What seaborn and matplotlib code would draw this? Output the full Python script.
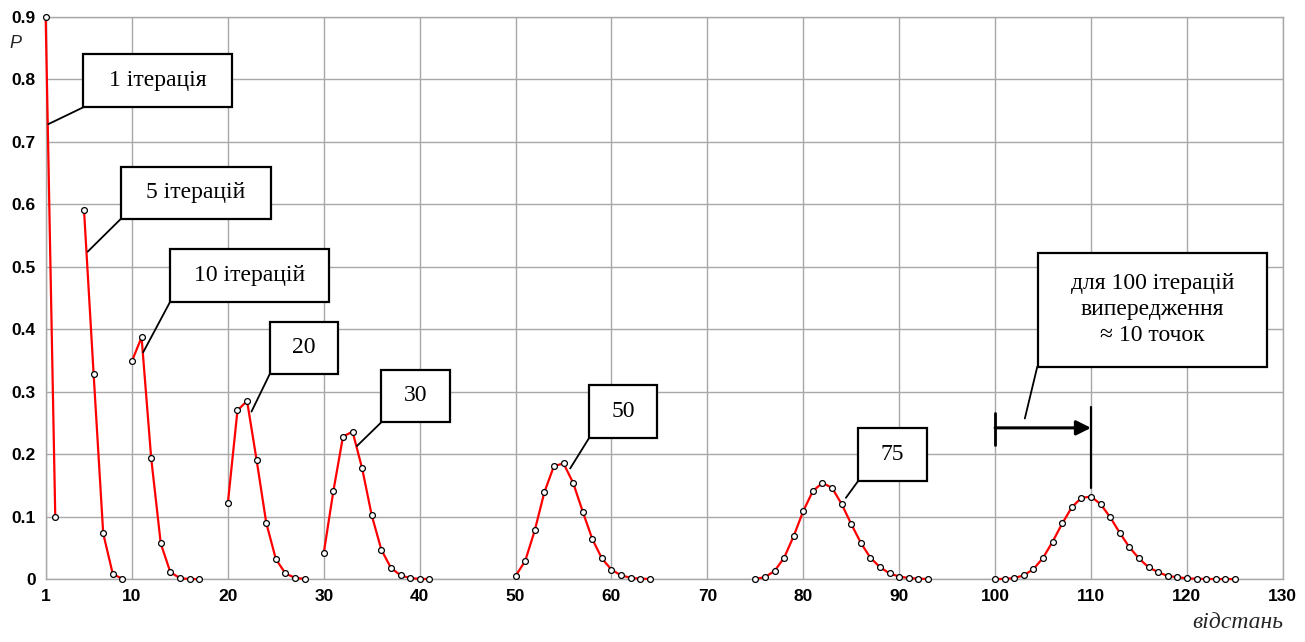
import matplotlib

matplotlib.use("Agg")
import matplotlib.pyplot as plt
from matplotlib.patches import Rectangle
import numpy as np
import pandas as pd
import seaborn as sns

# distance (x) and probability (P) for each number of iterations
x_1 = [1, 2]
p_1 = [0.9, 0.1]
x_5 = [5, 6, 7, 8, 9]
p_5 = [0.59, 0.328, 0.073, 0.008, 0.0005]
x_10 = [10, 11, 12, 13, 14, 15, 16, 17]
p_10 = [0.349, 0.387, 0.194, 0.057, 0.011, 0.0015, 0.0001, 0.0]
x_20 = [20, 21, 22, 23, 24, 25, 26, 27, 28]
p_20 = [0.122, 0.270, 0.285, 0.190, 0.090, 0.032, 0.009, 0.002, 0.0004]
x_30 = [30, 31, 32, 33, 34, 35, 36, 37, 38, 39, 40, 41]
p_30 = [0.042, 0.141, 0.228, 0.236, 0.177, 0.102, 0.047, 0.018, 0.006, 0.0016, 0.0004, 0.0001]
x_50 = [50, 51, 52, 53, 54, 55, 56, 57, 58, 59, 60, 61, 62, 63, 64]
p_50 = [0.005, 0.029, 0.078, 0.139, 0.181, 0.185, 0.154, 0.108, 0.064, 0.033, 0.015,
        0.006, 0.002, 0.0007, 0.0002]
x_75 = [75, 76, 77, 78, 79, 80, 81, 82, 83, 84, 85, 86, 87, 88, 89, 90, 91, 92, 93]
p_75 = [0.0004, 0.003, 0.013, 0.034, 0.069, 0.109, 0.141, 0.154, 0.146, 0.120, 0.088,
        0.058, 0.034, 0.019, 0.009, 0.004, 0.0017, 0.0007, 0.0002]
x_100 = [100, 101, 102, 103, 104, 105, 106, 107, 108, 109, 110, 111, 112, 113, 114,
         115, 116, 117, 118, 119, 120, 121, 122, 123, 124, 125]
p_100 = [0.0, 0.0003, 0.0016, 0.006, 0.016, 0.034, 0.060, 0.089, 0.115, 0.130, 0.132,
         0.120, 0.099, 0.074, 0.051, 0.033, 0.019, 0.011, 0.005, 0.003, 0.0012, 0.0005,
         0.0002, 0.0001, 0.0, 0.0]

iterations = [1, 5, 10, 20, 30, 50, 75, 100]
series_x = [x_1, x_5, x_10, x_20, x_30, x_50, x_75, x_100]
series_p = [p_1, p_5, p_10, p_20, p_30, p_50, p_75, p_100]

x_ticks = [1, 10, 20, 30, 40, 50, 60, 70, 80, 90, 100, 110, 120, 130]
y_ticks = [0, 0.1, 0.2, 0.3, 0.4, 0.5, 0.6, 0.7, 0.8, 0.9]
y_tick_labels = ["0", "0.1", "0.2", "0.3", "0.4", "0.5", "0.6", "0.7", "0.8", "0.9"]

# label boxes: (text, x0, x1, y_bottom, y_top, leader start, leader end)
boxes = [
    ("1 ітерація", 4.92, 20.38, 0.755, 0.840, (4.92, 0.755), (1.27, 0.728)),
    ("5 ітерацій", 8.81, 24.54, 0.576, 0.660, (8.81, 0.576), (5.38, 0.524)),
    ("10 ітерацій", 13.95, 30.54, 0.443, 0.529, (13.95, 0.443), (11.17, 0.363)),
    ("20", 24.36, 31.48, 0.328, 0.412, (24.36, 0.328), (22.46, 0.268)),
    ("30", 36.0, 43.19, 0.251, 0.335, (36.0, 0.251), (33.46, 0.213)),
    ("50", 57.63, 64.75, 0.225, 0.310, (57.63, 0.225), (55.69, 0.177)),
    ("75", 85.72, 92.88, 0.157, 0.241, (85.72, 0.157), (84.44, 0.130)),
    ("для 100 ітерацій\nвипередження\n≈ 10 точок", 104.5, 128.3, 0.340, 0.522,
     (104.4, 0.340), (103.1, 0.257)),
]

frames = []
for n, xs, ps in zip(iterations, series_x, series_p):
    frames.append(pd.DataFrame({"distance": xs, "P": ps, "iterations": n}))
df = pd.concat(frames, ignore_index=True)

sns.set_theme(style="whitegrid")
plt.rcParams["font.family"] = ["Liberation Sans", "DejaVu Sans"]

fig = plt.figure(figsize=(13.05, 6.42), dpi=100)
ax = fig.add_axes([0.035, 0.098, 0.948, 0.876])

sns.lineplot(
    data=df, x="distance", y="P", hue="iterations", units="iterations", estimator=None,
    palette=["red"] * len(iterations), legend=False, ax=ax, linewidth=1.6,
    marker="o", markersize=4.2, markerfacecolor="white", markeredgecolor="black",
    markeredgewidth=0.9, zorder=3,
)
for line in ax.lines:
    line.set_clip_on(False)

ax.set_xlim(1, 130)
ax.set_ylim(0, 0.9)
ax.set_xticks(x_ticks)
ax.set_yticks(y_ticks)
ax.set_yticklabels(y_tick_labels)
ax.set_xlabel("")
ax.set_ylabel("")
ax.grid(True, color="#a8a8a8", linewidth=1.0)
for spine in ax.spines.values():
    spine.set_color("#a8a8a8")
    spine.set_linewidth(1.0)
ax.tick_params(length=0, pad=7)
for label in ax.get_xticklabels() + ax.get_yticklabels():
    label.set_fontfamily(["Liberation Sans Narrow", "Liberation Sans"])
    label.set_fontweight("bold")
    label.set_fontsize(12.5)
    label.set_color("black")

serif = ["Liberation Serif", "DejaVu Serif"]
for text, x0, x1, y0, y1, start, end in boxes:
    ax.add_patch(Rectangle((x0, y0), x1 - x0, y1 - y0, facecolor="white",
                           edgecolor="black", linewidth=1.6, zorder=5, clip_on=False))
    ax.text((x0 + x1) / 2, (y0 + y1) / 2, text, ha="center", va="center",
            fontsize=17, family=serif, color="black", zorder=6, linespacing=1.3)
    ax.plot([start[0], end[0]], [start[1], end[1]], color="black", linewidth=1.3, zorder=4)

# lead distance marker for 100 iterations
ax.plot([100, 100], [0.214, 0.265], color="black", linewidth=2, zorder=4)
ax.plot([110, 110], [0.146, 0.275], color="black", linewidth=1.6, zorder=4)
ax.annotate("", xy=(110, 0.242), xytext=(100, 0.242),
            arrowprops=dict(arrowstyle="-|>", color="black", lw=2.2, mutation_scale=22,
                            shrinkA=0, shrinkB=0), zorder=4)

fig.text(0.007, 0.925, "P", fontsize=13, style="italic", family=["Liberation Sans", "DejaVu Sans"])
fig.text(0.983, 0.022, "відстань", fontsize=17, style="italic", family=serif, ha="right")

fig.savefig("out.png", dpi=100)
